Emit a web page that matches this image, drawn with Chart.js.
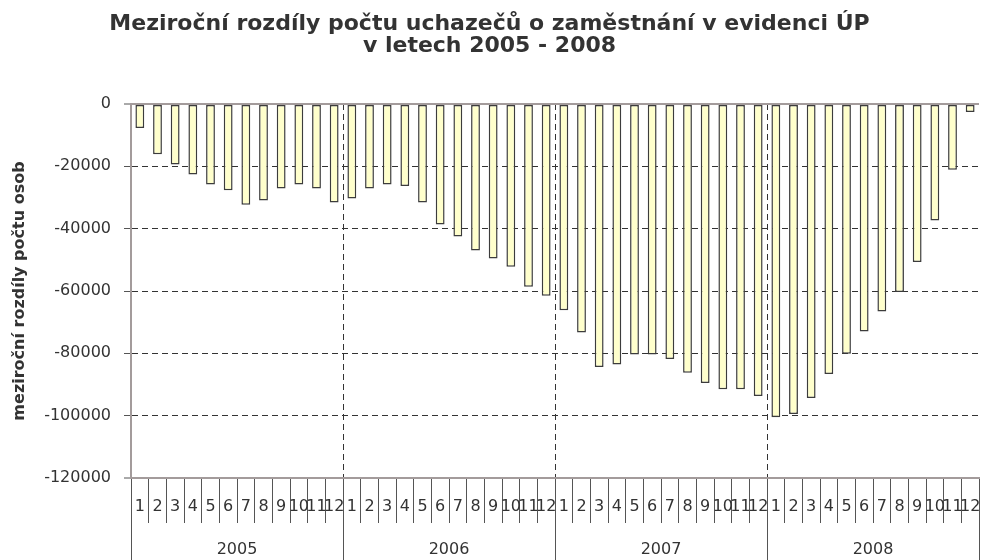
<!DOCTYPE html>
<html>
<head>
<meta charset="utf-8">
<script src="https://cdn.jsdelivr.net/npm/chart.js@4"></script>
<style>
  body { margin: 0; background: #fff; }
  #wrap { width: 981px; height: 560px; }
</style>
</head>
<body>
<div id="wrap"><canvas id="chartRozdil"></canvas></div>
<script>
const roky = ["2005", "2006", "2007", "2008"];
const mesice = ["1", "2", "3", "4", "5", "6", "7", "8", "9", "10", "11", "12"];

const rozdil2005 = [-7700, -16100, -19400, -22600, -25800, -27700, -32300, -31000, -27100, -25800, -27100, -31600];
const rozdil2006 = [-30300, -27100, -25800, -26300, -31600, -38700, -42500, -47000, -49600, -52200, -58600, -61500];
const rozdil2007 = [-66200, -73300, -84400, -83600, -80400, -80400, -81800, -86200, -89500, -91500, -91500, -93700];
const rozdil2008 = [-100500, -99500, -94300, -86600, -80100, -73000, -66600, -60300, -50700, -37400, -21100, -2600];

const yMin = -120000;
const yMax = 0;
const yKrok = 20000;

const nazev = ["Meziroční rozdíly počtu uchazečů o zaměstnání v evidenci ÚP", "v letech 2005 - 2008"];
const nazevY = "meziroční rozdíly počtu osob";

let popisky = [];
roky.forEach(r => mesice.forEach(m => popisky.push(m)));
const hodnoty = [].concat(rozdil2005, rozdil2006, rozdil2007, rozdil2008);

const osaBarva = "#a39b9b";
const textBarva = "#333333";
const font = "'DejaVu Sans', sans-serif";

function okraj(v) { return v === yMin || v === yMax; }

const ctx = document.getElementById("chartRozdil");
const chart = new Chart(ctx, {
  type: "bar",
  data: {
    labels: popisky,
    datasets: [{
      label: "",
      data: hodnoty,
      backgroundColor: "#FFFFCC",
      borderColor: "#3c3c3c",
      borderWidth: 1.5,
      borderSkipped: false,
      barPercentage: 0.5,
      categoryPercentage: 1.0
    }]
  },
  options: {
    responsive: true,
    maintainAspectRatio: false,
    animation: false,
    layout: { padding: { left: 0, right: 2, top: 0, bottom: 0 } },
    plugins: {
      legend: { display: false },
      tooltip: { enabled: false },
      title: {
        display: true,
        text: nazev,
        color: textBarva,
        font: { family: font, size: 22, weight: "bold", lineHeight: 1.0 },
        padding: { top: 13, bottom: 47 }
      }
    },
    scales: {
      x: {
        type: "category",
        position: "bottom",
        weight: 0,
        offset: true,
        grid: {
          offset: true,
          drawOnChartArea: false,
          tickLength: 45,
          tickColor: "#555555",
          tickWidth: 1
        },
        border: { color: osaBarva, width: 2 },
        ticks: {
          autoSkip: false,
          maxRotation: 0,
          minRotation: 0,
          padding: -26,
          color: textBarva,
          font: { family: font, size: 16 }
        },
        afterFit: (s) => { s.height = 45; }
      },
      x2: {
        type: "category",
        position: "bottom",
        weight: 1,
        labels: roky,
        offset: true,
        grid: {
          offset: true,
          drawOnChartArea: true,
          color: (c) => (c.type === "tick" && c.index > 0) ? "#333333" : "rgba(0,0,0,0)",
          lineWidth: 1,
          tickLength: 37,
          tickColor: "#555555",
          tickWidth: 1
        },
        border: { display: false, dash: [6, 4] },
        ticks: {
          autoSkip: false,
          maxRotation: 0,
          padding: -20,
          color: textBarva,
          font: { family: font, size: 16 }
        },
        afterFit: (s) => { s.height = 37; }
      },
      y: {
        min: yMin,
        max: yMax,
        ticks: {
          stepSize: yKrok,
          padding: 13,
          color: textBarva,
          font: { family: font, size: 16 },
          callback: (v) => String(v)
        },
        grid: {
          color: (c) => (c.tick && okraj(c.tick.value)) ? osaBarva : "#333333",
          lineWidth: (c) => (c.tick && okraj(c.tick.value)) ? 2 : 1,
          tickLength: 7,
          tickColor: "#555555",
          tickWidth: 1
        },
        border: {
          color: osaBarva,
          width: 2,
          dash: (c) => (c.tick && okraj(c.tick.value)) ? [] : [6, 4]
        },
        title: {
          display: true,
          text: nazevY,
          color: textBarva,
          font: { family: font, size: 16, weight: "bold" },
          padding: { top: 10, bottom: 0 }
        },
        afterFit: (s) => { s.width = 131; }
      }
    }
  }
});
</script>
</body>
</html>
